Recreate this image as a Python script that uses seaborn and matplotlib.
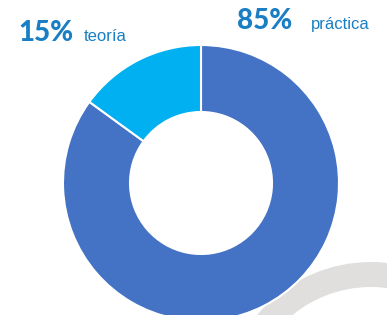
import seaborn as sns
import matplotlib.pyplot as plt
from matplotlib.patches import Wedge

labels = ["práctica", "teoría"]
values = [85, 15]
colors = ["#4472C4", "#00B0F0"]
text_color = "#1A7EC4"

sns.set_theme(style="white")
plt.rcParams['font.family'] = ['Lato', 'DejaVu Sans']

W, H = 387, 315
fig = plt.figure(figsize=(W / 100, H / 100), dpi=100)
ax = fig.add_axes([0, 0, 1, 1])

# decorative grey arc in the lower right corner
ax.add_patch(Wedge((371, H - 411), 149, 0, 180, width=25, color="#E1DFDE", lw=0))

# donut
ax.pie(values, colors=colors, startangle=90, counterclock=False,
       center=(201, H - 183), radius=138,
       wedgeprops=dict(width=67, edgecolor="white", linewidth=1.5))

ax.set_xlim(0, W)
ax.set_ylim(0, H)
ax.set_aspect('equal')
ax.axis('off')

# labels at the top
num_font = dict(color=text_color, fontsize=20, fontweight='black', va='baseline')
lab_font = dict(color=text_color, fontsize=12, va='baseline',
                family=['Liberation Sans', 'DejaVu Sans'])
ax.text(18, H - 41, f"{values[1]}%", **num_font)
ax.text(84, H - 41, labels[1], **lab_font)
ax.text(237, H - 29, f"{values[0]}%", **num_font)
ax.text(311, H - 29, labels[0], **lab_font)

fig.savefig("out.png", dpi=100)
